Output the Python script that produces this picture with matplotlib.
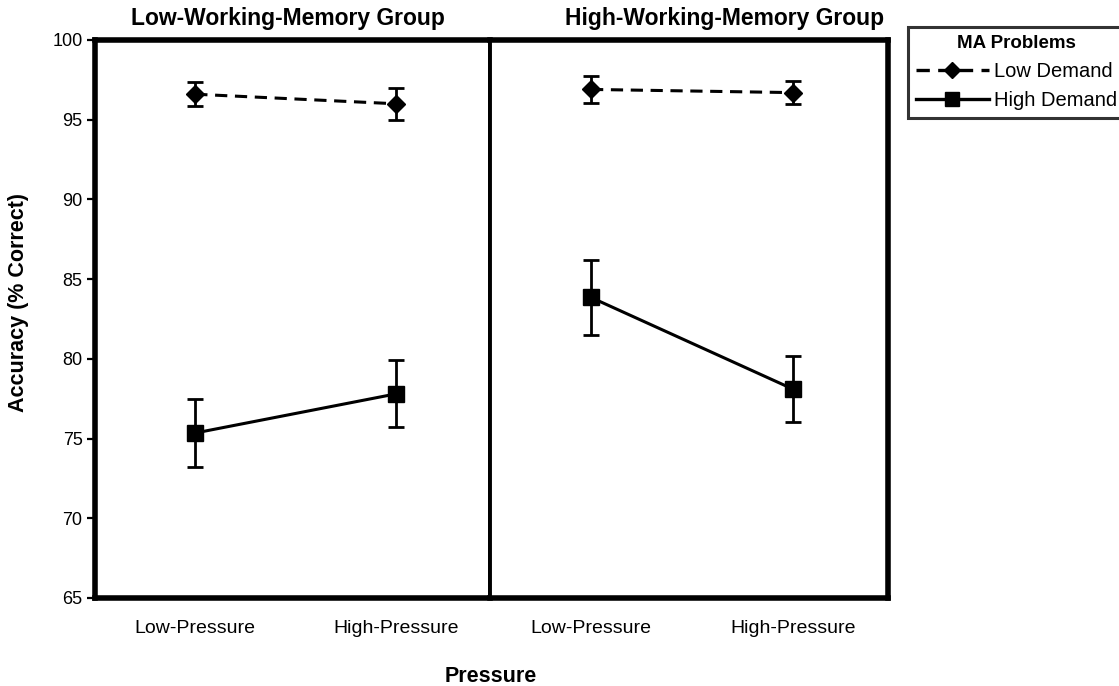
import numpy as np
import matplotlib
matplotlib.use("Agg")
import matplotlib.pyplot as plt
from matplotlib.lines import Line2D

plt.rcParams['font.family'] = ['Liberation Sans', 'DejaVu Sans']

pressure = ["Low-Pressure", "High-Pressure"]
groups = ["Low-Working-Memory Group", "High-Working-Memory Group"]

# accuracy means and error bars, per group
low_demand = [[96.6, 96.0], [96.9, 96.7]]
low_demand_err = [[0.75, 1.0], [0.85, 0.7]]
high_demand = [[75.35, 77.8], [83.85, 78.1]]
high_demand_err = [[2.15, 2.1], [2.35, 2.05]]

W, H = 1119, 686
fig = plt.figure(figsize=(W / 100, H / 100), dpi=100)

def px_box(x0, x1, y0, y1):
    return [x0 / W, 1 - y1 / H, (x1 - x0) / W, (y1 - y0) / H]

ax1 = fig.add_axes(px_box(95, 490, 40, 598))
ax2 = fig.add_axes(px_box(490, 888, 40, 598))

dash = (0, (4, 2.5))
x = np.arange(len(pressure))
for i, ax in enumerate([ax1, ax2]):
    ax.errorbar(x, low_demand[i], yerr=low_demand_err[i], color='black',
                linestyle=dash, linewidth=2.2, marker='D', markersize=9.5,
                capsize=5.5, elinewidth=2, capthick=2)
    ax.errorbar(x, high_demand[i], yerr=high_demand_err[i], color='black',
                linestyle='-', linewidth=2.2, marker='s', markersize=11,
                capsize=5.5, elinewidth=2, capthick=2)
    ax.set_ylim(65, 100)
    ax.set_xlim(-0.5, 1.47)
    ax.set_xticks(x)
    ax.set_xticklabels(pressure, fontsize=14)
    ax.tick_params(axis='x', length=0, pad=16)
    for s in ax.spines.values():
        s.set_linewidth(4)

ax1.spines['right'].set_linewidth(2.8)
ax2.spines['left'].set_linewidth(2.8)
ax1.set_yticks(np.arange(65, 101, 5))
ax1.tick_params(axis='y', length=6, width=1.6, labelsize=13, pad=3)
ax2.set_yticks([])

fig.text(288 / W, 1 - 18 / H, groups[0], ha='center', va='center',
         fontsize=16.5, fontweight='bold')
fig.text(725 / W, 1 - 18 / H, groups[1], ha='center', va='center',
         fontsize=16.5, fontweight='bold')
fig.text(19 / W, 1 - 302 / H, "Accuracy (% Correct)", rotation=90,
         ha='center', va='center', fontsize=15.5, fontweight='bold')
fig.text(491 / W, 1 - 676 / H, "Pressure", ha='center', va='center',
         fontsize=15.5, fontweight='bold')

handles = [
    Line2D([], [], color='black', linestyle=dash, linewidth=2.4,
           marker='D', markersize=8),
    Line2D([], [], color='black', linestyle='-', linewidth=2.4,
           marker='s', markersize=10),
]
leg = fig.legend(handles, ["Low Demand", "High Demand"], title="MA Problems",
                 loc='upper left', bbox_to_anchor=(908 / W, 1 - 27 / H),
                 fontsize=14.5, title_fontproperties={'weight': 'bold', 'size': 13.5},
                 frameon=True, fancybox=False, edgecolor='black',
                 handlelength=3.6, handletextpad=0.25, labelspacing=0.5,
                 borderpad=0.4, borderaxespad=0)
leg.get_frame().set_linewidth(2.2)
leg._legend_box.align = "center"

fig.savefig("out.png", dpi=100)
